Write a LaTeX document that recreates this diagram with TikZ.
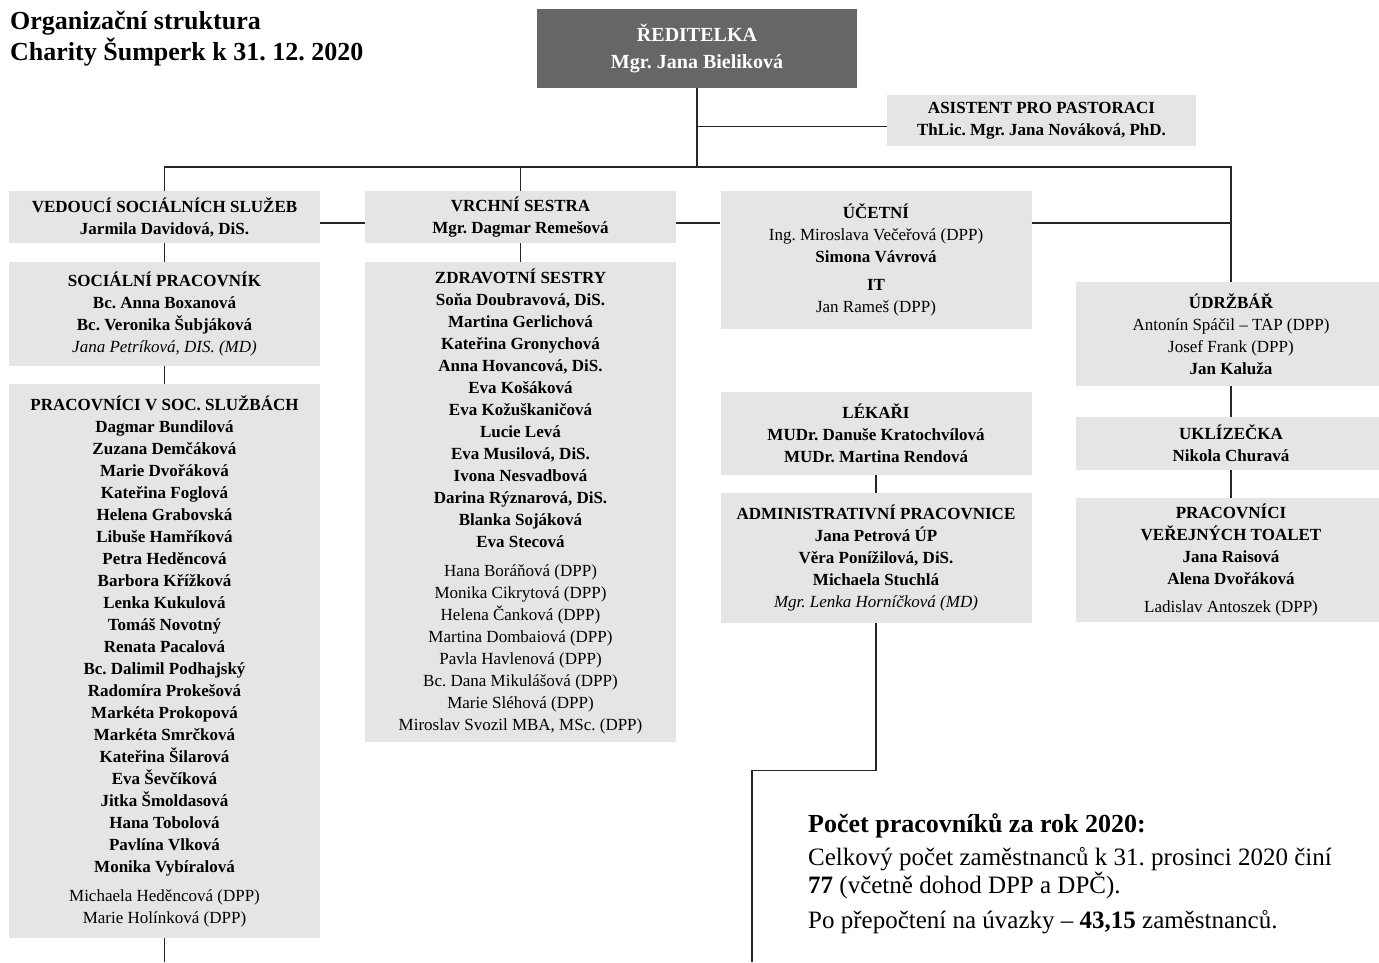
\documentclass[tikz,border=0pt]{standalone}
\usepackage{fontspec}
\setmainfont{Liberation Serif}
\frenchspacing

\begin{document}
\begin{tikzpicture}[x=1pt,y=-1pt]
		\tikzstyle{grey_block} = [fill=gray!20, minimum width=311pt, align=center, inner sep=2pt, font=\fontsize{17}{22}\selectfont\bfseries];
		\tikzstyle{dark_block} = [fill=black!60, text=white, minimum width=320pt, minimum height=79pt, align=center, font=\fontsize{20}{27}\selectfont\bfseries];
		\tikzstyle{conn} = [line width=1.1pt, black!85];

		\useasboundingbox (0,0) rectangle (1379,962);

		\node[anchor=north west, align=left, inner sep=0pt, font=\fontsize{26}{31}\selectfont\bfseries] (nazev) at (10,11) {Organizační struktura\\Charity Šumperk k 31. 12. 2020};

		\node[dark_block] (dir) at (697,48.5) {ŘEDITELKA\\Mgr. Jana Bieliková};
		\node[grey_block, minimum width=309pt, minimum height=51pt] (asist) at (1041.5,120.5) {ASISTENT PRO PASTORACI\\ThLic. Mgr. Jana Nováková, PhD.};

		\node[grey_block, minimum height=52pt] (soc) at (164.5,217) {VEDOUCÍ SOCIÁLNÍCH SLUŽEB\\Jarmila Davidová, DiS.};
		\node[grey_block, minimum height=104pt] (socprac) at (164.5,314) {SOCIÁLNÍ PRACOVNÍK\\Bc. Anna Boxanová\\Bc. Veronika Šubjáková\\{\mdseries\itshape Jana Petríková, DIS. (MD)}};
		\node[grey_block, minimum height=554pt] (pracsoc) at (164.5,661) {PRACOVNÍCI V SOC. SLUŽBÁCH\\Dagmar Bundilová\\Zuzana Demčáková\\Marie Dvořáková\\Kateřina Foglová\\Helena Grabovská\\Libuše Hamříková\\Petra Heděncová\\Barbora Křížková\\Lenka Kukulová\\Tomáš Novotný\\Renata Pacalová\\Bc. Dalimil Podhajský\\Radomíra Prokešová\\Markéta Prokopová\\Markéta Smrčková\\Kateřina Šilarová\\Eva Ševčíková\\Jitka Šmoldasová\\Hana Tobolová\\Pavlína Vlková\\Monika Vybíralová\\[7pt]{\mdseries Michaela Heděncová (DPP)}\\{\mdseries Marie Holínková (DPP)}};

		\node[grey_block, minimum height=52pt] (vrchni) at (520.5,217) {VRCHNÍ SESTRA\\Mgr. Dagmar Remešová};
		\node[grey_block, minimum height=480pt] (sestry) at (520.5,502) {ZDRAVOTNÍ SESTRY\\Soňa Doubravová, DiS.\\Martina Gerlichová\\Kateřina Gronychová\\Anna Hovancová, DiS.\\Eva Košáková\\Eva Kožuškaničová\\Lucie Levá\\Eva Musilová, DiS.\\Ivona Nesvadbová\\Darina Rýznarová, DiS.\\Blanka Sojáková\\Eva Stecová\\[7pt]{\mdseries Hana Boráňová (DPP)}\\{\mdseries Monika Cikrytová (DPP)}\\{\mdseries Helena Čanková (DPP)}\\{\mdseries Martina Dombaiová (DPP)}\\{\mdseries Pavla Havlenová (DPP)}\\{\mdseries Bc. Dana Mikulášová (DPP)}\\{\mdseries Marie Sléhová (DPP)}\\{\mdseries Miroslav Svozil MBA, MSc. (DPP)}};

		\node[grey_block, minimum height=138pt] (ucetni) at (876,260) {ÚČETNÍ\\{\mdseries Ing. Miroslava Večeřová (DPP)}\\Simona Vávrová\\[6pt]IT\\{\mdseries Jan Rameš (DPP)}};
		\node[grey_block, minimum height=83pt] (lekari) at (876,433) {LÉKAŘI\\MUDr. Danuše Kratochvílová\\MUDr. Martina Rendová};
		\node[grey_block, minimum height=130pt] (admin) at (876,558) {ADMINISTRATIVNÍ PRACOVNICE\\Jana Petrová ÚP\\Věra Ponížilová, DiS.\\Michaela Stuchlá\\{\mdseries\itshape Mgr. Lenka Horníčková (MD)}};

		\node[grey_block, minimum height=104pt] (udrzba) at (1231,334) {ÚDRŽBÁŘ\\{\mdseries Antonín Spáčil – TAP (DPP)}\\{\mdseries Josef Frank (DPP)}\\Jan Kaluža};
		\node[grey_block, minimum height=53pt] (uklid) at (1231,443.5) {UKLÍZEČKA\\Nikola Churavá};
		\node[grey_block, minimum height=124pt] (toalety) at (1231,560) {PRACOVNÍCI\\VEŘEJNÝCH TOALET\\Jana Raisová\\Alena Dvořáková\\[6pt]{\mdseries Ladislav Antoszek (DPP)}};

		\node[anchor=north west, text width=580pt, align=flush left, inner sep=0pt, font=\fontsize{25}{28}\selectfont] (pocet) at (808,813) {{\fontsize{26}{30}\selectfont\bfseries Počet pracovníků za rok 2020:\par}\vspace{5pt}Celkový počet zaměstnanců k 31. prosinci 2020 činí\par\textbf{77} (včetně dohod DPP a DPČ).\par\vspace{7pt}Po přepočtení na úvazky – \textbf{43,15} zaměstnanců.};

		\coordinate (sbernice) at (697,167);
		\coordinate (pricka) at (0,223);
		\coordinate (konecA) at (164.5,962);
		\coordinate (konecB) at (752,962);

		\draw[conn] (dir) -- (sbernice);
		\draw[conn] ([yshift=-6pt]asist.west) -- ([yshift=-6pt]asist.west -| sbernice);
		\draw[conn] (soc) |- (sbernice) -| (udrzba);
		\draw[conn] (vrchni) -- (vrchni |- sbernice);

		\draw[conn] (soc.east |- pricka) -- (vrchni.west |- pricka);
		\draw[conn] (vrchni.east |- pricka) -- (ucetni.west |- pricka);
		\draw[conn] (ucetni.east |- pricka) -- (udrzba.north |- pricka);

		\draw[conn] (soc) -- (socprac);
		\draw[conn] (socprac) -- (pracsoc);
		\draw[conn] (pracsoc) -- (konecA);
		\draw[conn] (vrchni) -- (sestry);
		\draw[conn] (lekari) -- (admin);
		\draw[conn] (udrzba) -- (uklid);
		\draw[conn] (uklid) -- (toalety);
		\draw[conn] (admin.south) -- ++(0,147) -| (konecB);
	\end{tikzpicture}
\end{document}
